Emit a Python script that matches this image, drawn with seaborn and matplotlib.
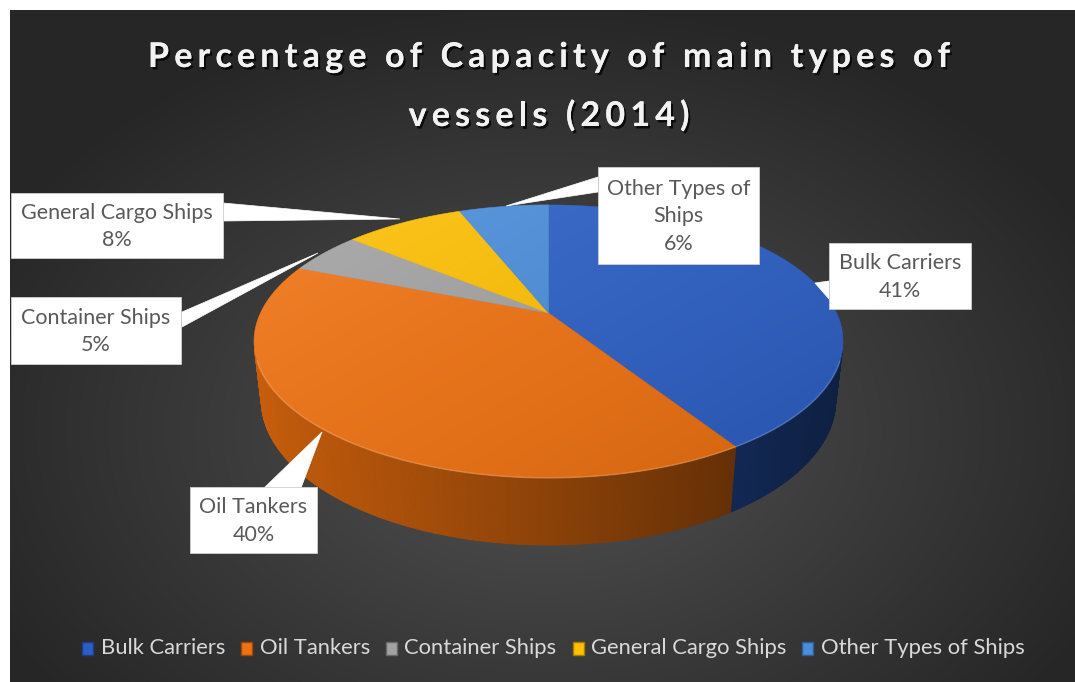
import numpy as np
import matplotlib
matplotlib.use("Agg")
import matplotlib.pyplot as plt
import matplotlib.patheffects as pe
from matplotlib.patches import Polygon, Rectangle
from matplotlib.colors import to_rgb
import seaborn as sns

# ---- data -------------------------------------------------------------
categories = ["Bulk Carriers", "Oil Tankers", "Container Ships",
              "General Cargo Ships", "Other Types of Ships"]
shares = [41, 40, 5, 8, 6]
label_lines = ["Bulk Carriers", "Oil Tankers", "Container Ships",
               "General Cargo Ships", "Other Types of\nShips"]
slice_colors = ["#2b5fc6", "#f0710f", "#a2a2a2", "#ffc000", "#4a8ddb"]
title_lines = ["Percentage of Capacity of main types of", "vessels (2014)"]

# ---- style ------------------------------------------------------------
sns.set_theme(style="dark")
plt.rcParams["font.family"] = ["Lato", "DejaVu Sans"]
palette = sns.color_palette(slice_colors)

W, H = 1075, 682
fig = plt.figure(figsize=(W / 100, H / 100), dpi=100, facecolor="white")
ax = fig.add_axes([0, 0, 1, 1])
ax.set_xlim(0, W)
ax.set_ylim(H, 0)
ax.axis("off")

# ---- background: dark radial gradient ---------------------------------
gx, gy = np.meshgrid(np.linspace(10, W, 400), np.linspace(10, H, 260))
r = np.sqrt(((gx - 545) / 620) ** 2 + ((gy - 430) / 430) ** 2)
r = np.clip(r, 0, 1)
c_in, c_out = np.array([0.32, 0.32, 0.32]), np.array([0.15, 0.15, 0.15])
bg = c_in[None, None, :] * (1 - r[..., None]) + c_out[None, None, :] * r[..., None]
ax.imshow(bg, extent=(10, W, H, 10), origin="upper", zorder=0, aspect="auto",
          interpolation="bilinear")

# ---- perspective projection of a flat disc ----------------------------
tilt = np.radians(26.96)
S, C = np.sin(tilt), np.cos(tilt)
DIST = 4.284
THICK = 0.229
SCALE = 1234.0
CX, CY = 548.5, 313.0


def project(phi, h=0.0, rad=1.0):
    X = rad * np.sin(phi)
    Z = rad * np.cos(phi)
    depth = DIST + Z * C - h * S
    up = Z * S + h * C
    return CX + SCALE * X / depth, CY - SCALE * up / depth


fractions = np.array(shares, dtype=float) / np.sum(shares)
bounds = np.concatenate([[0], np.cumsum(fractions)]) * 2 * np.pi

# outer rim (only the part turned toward the viewer)
left_x, _ = project(-np.pi / 2)
right_x, _ = project(np.pi / 2)
for i, col in enumerate(palette):
    phis = np.linspace(bounds[i], bounds[i + 1], max(4, int(fractions[i] * 720)))
    base = np.array(to_rgb(col))
    for a, b in zip(phis[:-1], phis[1:]):
        mid = 0.5 * (a + b)
        if np.cos(mid) > -1.0 / (DIST * C):
            continue
        xa, ya = project(a)
        xb, yb = project(b)
        xa2, ya2 = project(a, -THICK)
        xb2, yb2 = project(b, -THICK)
        t = ((xa + xb) / 2 - left_x) / (right_x - left_x)
        fac = 0.82 - 0.48 * t
        shade = np.clip(base * fac, 0, 1)
        ax.add_patch(Polygon([(xa, ya), (xb, yb), (xb2, yb2), (xa2, ya2)],
                             closed=True, facecolor=shade, edgecolor=shade,
                             linewidth=0.6, zorder=2))

# top faces
for i, col in enumerate(palette):
    phis = np.linspace(bounds[i], bounds[i + 1], max(4, int(fractions[i] * 720)))
    px, py = project(phis)
    verts = [(CX, CY)] + list(zip(px, py))
    ax.add_patch(Polygon(verts, closed=True, facecolor=col, edgecolor=col,
                         linewidth=0.4, zorder=3))

# soft light across the top surface
ring = np.linspace(0, 2 * np.pi, 720)
ox, oy = project(ring)
outline = Polygon(list(zip(ox, oy)), closed=True, transform=ax.transData,
                  facecolor="none", edgecolor="none")
ax.add_patch(outline)
x0, x1, y0, y1 = ox.min(), ox.max(), oy.min(), oy.max()
lx, ly = np.meshgrid(np.linspace(0, 1, 200), np.linspace(0, 1, 120))
g = np.clip(0.55 * lx + 0.45 * ly, 0, 1)
light = np.zeros(g.shape + (4,))
light[..., :3] = (1 - g)[..., None]
light[..., 3] = 0.10 + 0.06 * np.abs(g - 0.45)
img = ax.imshow(light, extent=(x0, x1, y1, y0), origin="upper", zorder=4,
                aspect="auto", interpolation="bilinear")
img.set_clip_path(outline)

# highlight along the front edge of the top face
front = np.linspace(np.radians(110), np.radians(250), 200)
fx, fy = project(front)
ax.plot(fx, fy, color="white", alpha=0.18, lw=1.2, zorder=4.5)

# ---- data labels ------------------------------------------------------
# box (left, top, right, bottom) and pointer triangle for each slice
boxes = [(829, 243, 971, 309), (190, 487, 317, 553), (11, 297, 181, 364),
         (11, 193, 223, 258), (598, 167, 759, 264)]
pointers = [[(829, 281), (829, 299), (815, 283)],
            [(264, 488), (301, 488), (322, 432)],
            [(182, 312), (182, 327), (318, 253)],
            [(223, 203), (223, 221), (400, 219)],
            [(598, 177), (598, 192), (506, 206)]]
for i in range(len(categories)):
    ax.add_patch(Polygon(pointers[i], closed=True, facecolor="white",
                         edgecolor="white", linewidth=0.5, zorder=5))
    l, t, rr, b = boxes[i]
    ax.add_patch(Rectangle((l, t), rr - l, b - t, facecolor="white",
                           edgecolor="#d0d0d0", linewidth=0.6, zorder=6))
    txt = f"{label_lines[i]}\n{shares[i]}%"
    ax.text((l + rr) / 2, (t + b) / 2 + 1, txt, ha="center", va="center",
            fontsize=15.5, color="#595959", linespacing=1.45, zorder=7,
            family=["Lato", "DejaVu Sans"])

fig.canvas.draw()
renderer = fig.canvas.get_renderer()


def text_width(s, **kw):
    """Advance width of a string in pixels (a bar sentinel keeps trailing spaces)."""
    probe = ax.text(0, 0, s + "|", **kw)
    bar = ax.text(0, 0, "|", **kw)
    w = probe.get_window_extent(renderer).width - bar.get_window_extent(renderer).width
    probe.remove()
    bar.remove()
    return w


# ---- title (letter-spaced) -------------------------------------------
title_kw = dict(fontsize=24.5, fontweight="bold", family=["Lato", "DejaVu Sans"])
title_fx = [pe.withSimplePatchShadow(offset=(1.5, -1.8), shadow_rgbFace="black",
                                     alpha=0.75),
            pe.Normal()]
line1 = title_lines[0]
track = (802 - text_width(line1, **title_kw)) / (len(line1) - 1)
for baseline, line in zip([67, 126], title_lines):
    full = text_width(line, **title_kw) + track * (len(line) - 1)
    start = 549 - full / 2
    for k, ch in enumerate(line):
        if ch == " ":
            continue
        xk = start + text_width(line[:k], **title_kw) + track * k
        ax.text(xk, baseline, ch, ha="left", va="baseline", color="#f2f2f2",
                zorder=8, path_effects=title_fx, **title_kw)

# ---- legend -----------------------------------------------------------
leg_y = 648
items = []
for i, name in enumerate(categories):
    t = ax.text(0, leg_y, name, ha="left", va="center", fontsize=15.8,
                color="#d9d9d9", zorder=8, family=["Lato", "DejaVu Sans"])
    wpx = t.get_window_extent(renderer).width
    items.append((t, wpx))
mark_w, mark_h, gap_m, gap_i = 11, 13, 7.5, 16
total = sum(mark_w + gap_m + w for _, w in items) + gap_i * (len(items) - 1)
xpos = 553.5 - total / 2
for i, (t, wpx) in enumerate(items):
    col = np.array(to_rgb(palette[i]))
    ax.add_patch(Rectangle((xpos, leg_y - mark_h / 2), mark_w, mark_h,
                           facecolor=col, edgecolor=np.clip(col * 0.65, 0, 1),
                           linewidth=1.0, zorder=8))
    t.set_x(xpos + mark_w + gap_m)
    xpos += mark_w + gap_m + wpx + gap_i

fig.savefig("out.png", dpi=100, facecolor="white")
